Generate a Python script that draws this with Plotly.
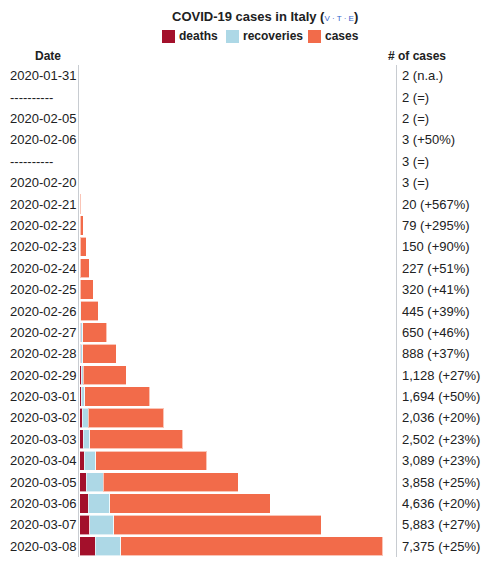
import plotly.graph_objects as go

# rows of the Wikipedia-style case table, top to bottom
dates = ['2020-01-31', '----------', '2020-02-05', '2020-02-06', '----------',
         '2020-02-20', '2020-02-21', '2020-02-22', '2020-02-23', '2020-02-24',
         '2020-02-25', '2020-02-26', '2020-02-27', '2020-02-28', '2020-02-29',
         '2020-03-01', '2020-03-02', '2020-03-03', '2020-03-04', '2020-03-05',
         '2020-03-06', '2020-03-07', '2020-03-08']
deaths = [0, 0, 0, 0, 0, 0, 1, 2, 3, 7, 10, 12, 17, 21, 29,
          34, 52, 79, 107, 148, 197, 233, 366]
recoveries = [0, 0, 0, 0, 0, 0, 0, 1, 2, 1, 1, 3, 45, 46, 50,
              83, 149, 160, 276, 414, 523, 589, 622]
cases = [2, 2, 2, 3, 3, 3, 20, 79, 150, 227, 320, 445, 650, 888, 1128,
         1694, 2036, 2502, 3089, 3858, 4636, 5883, 7375]
case_labels = ['2 (n.a.)', '2 (=)', '2 (=)', '3 (+50%)', '3 (=)', '3 (=)',
               '20 (+567%)', '79 (+295%)', '150 (+90%)', '227 (+51%)',
               '320 (+41%)', '445 (+39%)', '650 (+46%)', '888 (+37%)',
               '1,128 (+27%)', '1,694 (+50%)', '2,036 (+20%)', '2,502 (+23%)',
               '3,089 (+23%)', '3,858 (+25%)', '4,636 (+20%)', '5,883 (+27%)',
               '7,375 (+25%)']
series_names = ['deaths', 'recoveries', 'cases']
series_colors = ['#A3102B', '#ADD8E6', '#F26B4A']

rows = list(range(len(dates)))
active = [c - d - r for c, d, r in zip(cases, deaths, recoveries)]

W, H = 500, 563
OFF = 8  # the page body adds an 8px margin around the figure
FONT = 'Liberation Sans, Arial, sans-serif'
INK = '#202122'


def px(x):
    # screen x pixel -> paper fraction
    return (x - OFF) / W


def py(y):
    # screen y pixel -> paper fraction
    return 1 - (y - OFF) / H


fig = go.Figure()
for name, vals, col in zip(series_names, [deaths, recoveries, active], series_colors):
    fig.add_trace(go.Bar(y=rows, x=vals, orientation='h', name=name, showlegend=False,
                         marker=dict(color=col, line=dict(color='rgba(255,255,255,0.6)', width=1))))

# date column on the left, case counts on the right
for r, d, lab in zip(rows, dates, case_labels):
    fig.add_annotation(x=px(8), xref='paper', y=r, yref='y', text=d,
                       showarrow=False, xanchor='left', yanchor='middle',
                       font=dict(family=FONT, size=13, color=INK))
    fig.add_annotation(x=px(400), xref='paper', y=r, yref='y', text=lab,
                       showarrow=False, xanchor='left', yanchor='middle',
                       font=dict(family=FONT, size=13, color=INK))

fig.add_annotation(x=px(33), xref='paper', y=py(56), yref='paper',
                   text='<b>Date</b>', showarrow=False, yanchor='middle',
                   font=dict(family=FONT, size=12, color=INK))
fig.add_annotation(x=px(448), xref='paper', y=py(56), yref='paper',
                   text='<b># of cases</b>', showarrow=False, yanchor='middle',
                   font=dict(family=FONT, size=12, color=INK))
fig.add_annotation(x=px(170), xref='paper', y=py(16), yref='paper',
                   text="<b>COVID-19 cases in Italy (</b>"
                        "<span style='font-size:8px;color:#3366cc'>V · T · E</span><b>)</b>",
                   showarrow=False, xanchor='left', yanchor='middle',
                   font=dict(family=FONT, size=13, color=INK))

# legend: swatch followed closely by its label
legend_x = [162, 226, 308]
for lx, name, col in zip(legend_x, series_names, series_colors):
    fig.add_shape(type='rect', xref='paper', yref='paper',
                  x0=px(lx), x1=px(lx + 13), y0=py(43), y1=py(30),
                  fillcolor=col, line=dict(width=0))
    fig.add_annotation(x=px(lx + 15), xref='paper', y=py(36.5), yref='paper',
                       text='<b>' + name + '</b>', showarrow=False,
                       xanchor='left', yanchor='middle',
                       font=dict(family=FONT, size=12, color=INK))

fig.update_layout(
    width=W, height=H,
    margin=dict(l=0, r=0, t=0, b=0),
    plot_bgcolor='white', paper_bgcolor='white',
    barmode='stack', bargap=0.1,
    font=dict(family=FONT, size=13, color=INK),
    xaxis=dict(domain=[px(79), px(396)], range=[-24, 7700],
               showgrid=False, zeroline=False, showticklabels=False,
               fixedrange=True),
    yaxis=dict(domain=[py(557), py(65)],
               range=[len(dates) - 0.5, -0.5],
               showgrid=False, zeroline=False, showticklabels=False,
               showline=True, mirror=True, linecolor='#c8ccd1', linewidth=1),
)

fig.write_html("out.html")
